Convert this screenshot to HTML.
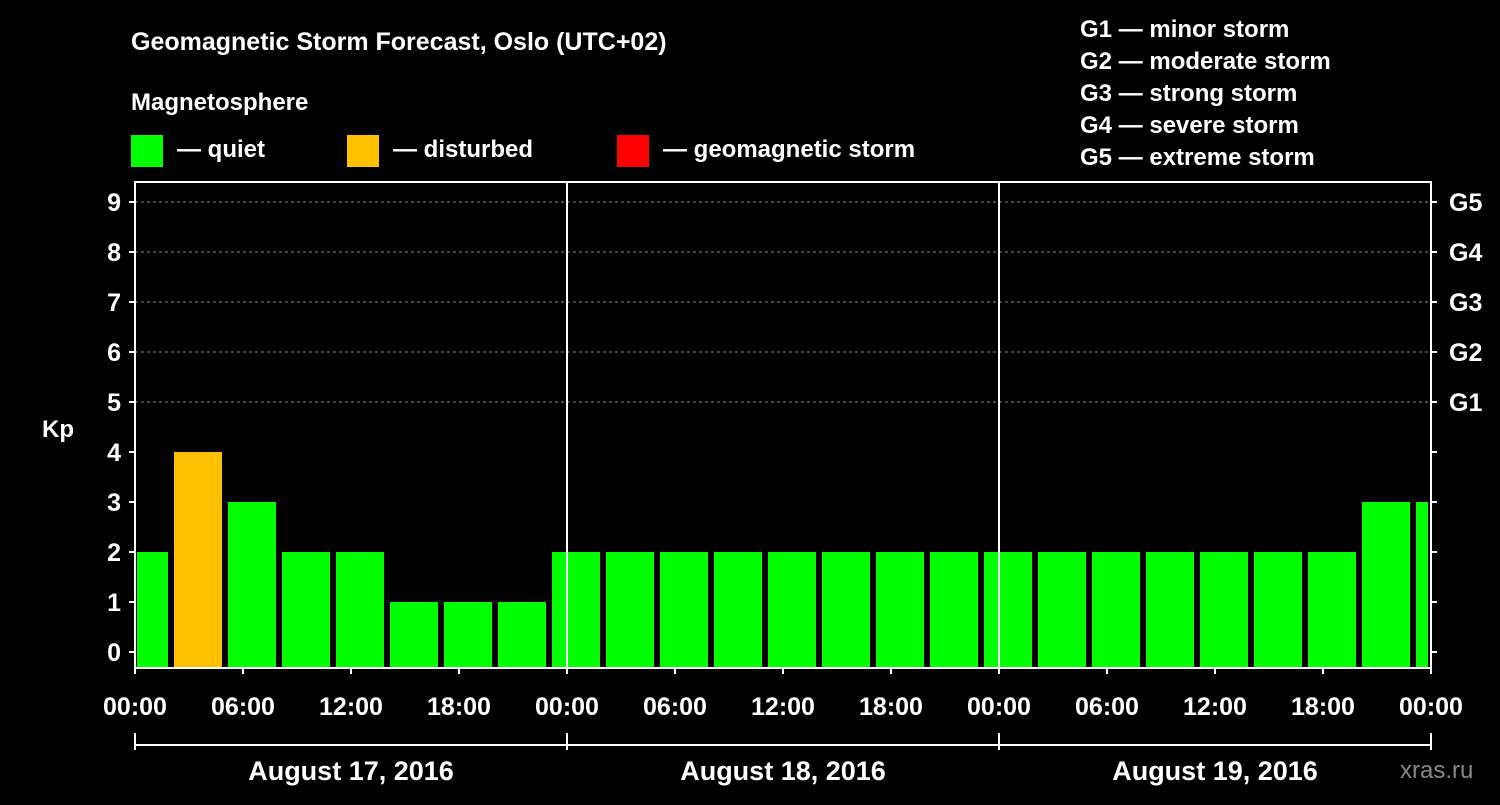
<!DOCTYPE html>
<html><head><meta charset="utf-8"><style>
body{margin:0;background:#000;width:1500px;height:800px;overflow:hidden}
svg{font-family:"Liberation Sans",sans-serif;font-weight:bold}
</style></head><body>
<svg id="c" width="1500" height="800">
<text x="131" y="50" fill="#fff" font-size="25">Geomagnetic Storm Forecast, Oslo (UTC+02)</text>
<text x="131" y="110" fill="#fff" font-size="24">Magnetosphere</text>
<g><rect x="131" y="135" width="32" height="32" fill="#00ff00"/><text x="177" y="157" fill="#fff" font-size="24">— quiet</text></g>
<g><rect x="347" y="135" width="32" height="32" fill="#ffc000"/><text x="393" y="157" fill="#fff" font-size="24">— disturbed</text></g>
<g><rect x="617" y="135" width="32" height="32" fill="#ff0000"/><text x="663" y="157" fill="#fff" font-size="24">— geomagnetic storm</text></g>
<g fill="#fff" font-size="24">
<text x="1080" y="37">G1 — minor storm</text><text x="1080" y="69">G2 — moderate storm</text><text x="1080" y="101">G3 — strong storm</text><text x="1080" y="133">G4 — severe storm</text><text x="1080" y="165">G5 — extreme storm</text></g>
<text x="42" y="437" fill="#fff" font-size="24">Kp</text>
<text x="1400" y="778" fill="#888" font-size="24" font-weight="normal">xras.ru</text>
<g id="marks"></g>
</svg>
<script>
const values=[2,4,3,2,2,1,1,1,2,2,2,2,2,2,2,2,2,2,2,2,2,2,2,3,3];
const kpTicks=[0,1,2,3,4,5,6,7,8,9];
const gLabels=["G1","G2","G3","G4","G5"];
const timeLabels=["00:00","06:00","12:00","18:00"];
const dayLabels=["August 17, 2016","August 18, 2016","August 19, 2016"];
const X0=135,X1=1431,PH=18,PT=182,PB=668;
const x=h=>X0+h*PH, y=v=>652-v*50;
const ns="http://www.w3.org/2000/svg",g=document.getElementById('marks');
function mk(t,a,txt){const e=document.createElementNS(ns,t);for(const k in a)e.setAttribute(k,a[k]);if(txt!=null)e.textContent=txt;g.appendChild(e);return e;}
for(let v=5;v<=9;v++){const l=mk('line',{x1:X0,x2:X1,y1:y(v),y2:y(v),stroke:'#888','stroke-dasharray':'3,3'});

}
values.forEach((v,i)=>{const s=Math.max(x(i*3-1)+3,X0+2),e=Math.min(x(i*3+2)-3,X1-3);
const r=mk('rect',{x:s,y:y(v),width:e-s,height:PB-y(v),fill:v>=5?'#ff0000':v>=4?'#ffc000':'#00ff00'});

});
const f=mk('rect',{x:X0,y:PT,width:X1-X0,height:PB-PT,fill:'none',stroke:'#fff','stroke-width':2});


for(let d=1;d<3;d++){const l=mk('line',{x1:x(d*24),x2:x(d*24),y1:PT,y2:PB,stroke:'#fff','stroke-width':2});

}
kpTicks.forEach(v=>{mk('line',{x1:X0-6,x2:X0,y1:y(v),y2:y(v),stroke:'#fff','stroke-width':2});mk('line',{x1:X1,x2:X1+6,y1:y(v),y2:y(v),stroke:'#fff','stroke-width':2});
const t=mk('text',{x:X0-14,y:y(v)+9,fill:'#fff','font-size':25,'text-anchor':'end'},v);

});
gLabels.forEach((s,i)=>{const t=mk('text',{x:X1+18,y:y(5+i)+9,fill:'#fff','font-size':25},s);

});
for(let h=0;h<=72;h+=6){mk('line',{x1:x(h),x2:x(h),y1:PB,y2:PB+6,stroke:'#fff','stroke-width':2});
const t=mk('text',{x:x(h),y:715,fill:'#fff','font-size':25,'text-anchor':'middle'},timeLabels[(h%24)/6]);

}
mk('line',{x1:X0,x2:X1,y1:745,y2:745,stroke:'#fff','stroke-width':2});
for(let d=0;d<=3;d++)mk('line',{x1:x(d*24),x2:x(d*24),y1:733,y2:750,stroke:'#fff','stroke-width':2});
dayLabels.forEach((s,d)=>{const t=mk('text',{x:x(d*24+12),y:780,fill:'#fff','font-size':27,'text-anchor':'middle'},s);

});
</script>
</body></html>
